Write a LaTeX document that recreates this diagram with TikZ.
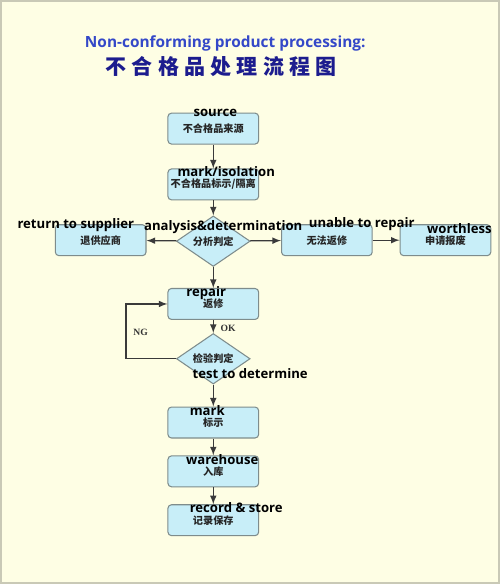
\documentclass[tikz,border=0pt]{standalone}
\usepackage{fontspec}
\setmainfont{Open Sans}
\newfontfamily\cjk{Noto Sans CJK SC}
\newfontfamily\cjktitle[LetterSpace=25]{Noto Sans CJK SC}
\newfontfamily\smallserif{Liberation Serif}
\usepackage{xcolor}
\usepackage{tikz}
\usetikzlibrary{shapes.geometric, arrows, positioning}

\definecolor{paper}{HTML}{FEFEE4}
\definecolor{frame}{HTML}{C9C9B6}
\definecolor{boxfill}{HTML}{C8EEF8}
\definecolor{boxline}{HTML}{7E8C8C}
\definecolor{linecol}{HTML}{3A3A3A}
\definecolor{titleblue}{HTML}{3448C8}
\definecolor{titlenavy}{HTML}{1C1C8E}

\newcommand{\entxt}{\bfseries\fontsize{7.5}{8}\selectfont}
\newcommand{\zhtxt}{\cjk\bfseries\fontsize{5.8}{6.5}\selectfont}

\begin{document}
\begin{tikzpicture}[x=0.02cm,y=-0.02cm,>=latex]
\tikzstyle{box}=[draw=boxline,fill=boxfill,rounded corners=2pt,minimum width=1.82cm,minimum height=0.62cm,inner sep=0pt,line width=0.6pt,font=\zhtxt,text=black!85]
\tikzstyle{decide}=[diamond,draw=boxline,fill=boxfill,minimum width=1.48cm,minimum height=0.84cm,inner sep=0pt,line width=0.6pt,font=\zhtxt,text=black!85]
\tikzstyle{tag}=[inner sep=0pt,font=\entxt]
\tikzstyle{flow}=[->,draw=linecol,line width=0.7pt]
\tikzstyle{judge}=[inner sep=0pt,font=\smallserif\bfseries\fontsize{5.5}{6}\selectfont,text=black!80]

% paper
\draw[fill=paper,draw=frame,line width=1.2pt] (0,0) rectangle (500,584);

% title
\node[inner sep=0pt,text=titleblue,font=\bfseries\fontsize{8.8}{9}\selectfont] (title) at (225,43) {Non-conforming product processing:};
\node[inner sep=0pt,text=titlenavy,font=\cjktitle\bfseries\fontsize{12}{13}\selectfont] (titlezh) at (221,66) {不合格品处理流程图};

% steps
\node[box] (source) at (213,128) {不合格品来源};
\node[box] (isolate) at (213,184) {不合格品标示/隔离};
\node[decide] (analysis) at (213,241) {分析判定};
\node[box] (back) at (100,240) {退供应商};
\node[box] (unable) at (327,240) {无法返修};
\node[box] (scrap) at (446,240) {申请报废};
\node[box] (repair) at (213,304) {返修};
\node[decide] (test) at (213,359) {检验判定};
\node[box] (mark) at (213,423) {标示};
\node[box] (store) at (213,472) {入库};
\node[box] (record) at (213,521) {记录保存};

% connectors
\draw[flow] (source) -- (isolate);
\draw[flow] (isolate) -- (analysis);
\draw[flow] (analysis) -- (back);
\draw[flow] (analysis) -- (unable);
\draw[flow] (unable) -- (scrap);
\draw[flow] (analysis) -- (repair);
\draw[flow] (repair) -- (test);
\draw[flow] (test.west) -- ++(-50,0) |- (repair.west);
\draw[flow] (test) -- (mark);
\draw[flow] (mark) -- (store);
\draw[flow] (store) -- (record);

\node[judge] (ok) at (228,328) {OK};
\node[judge] (ng) at (140,332) {NG};

% english labels
\node[tag] (lsource) at (215,112) {source};
\node[tag] (lisolate) at (226,171) {mark/isolation};
\node[tag] (lback) at (75,225) {return to supplier};
\node[tag] (lanalysis) at (223,227) {analysis\&determination};
\node[tag] (lunable) at (362,224) {unable to repair};
\node[tag] (lscrap) at (460,228) {worthless};
\node[tag] (lrepair) at (206,293) {repair};
\node[tag] (ltest) at (250,374) {test to determine};
\node[tag] (lmark) at (207,411) {mark};
\node[tag] (lstore) at (222,460) {warehouse};
\node[tag] (lrecord) at (236,508) {record \& store};

\end{tikzpicture}
\end{document}
